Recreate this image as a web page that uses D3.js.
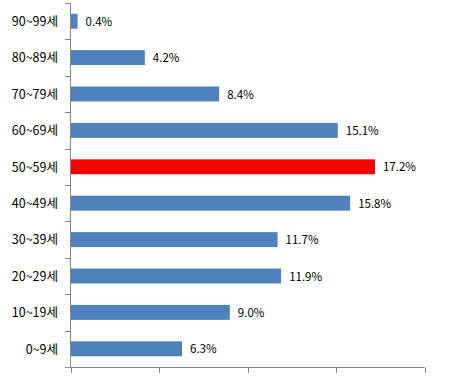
<!DOCTYPE html>
<html><head><meta charset="utf-8">
<script src="https://cdn.jsdelivr.net/npm/d3@7"></script>
<style>body{margin:0;background:#fff;} svg{display:block;}</style>
</head><body>
<svg id="c" width="453" height="379"></svg>
<script>
const categories = ["90~99세","80~89세","70~79세","60~69세","50~59세","40~49세","30~39세","20~29세","10~19세","0~9세"];
const values = [0.4,4.2,8.4,15.1,17.2,15.8,11.7,11.9,9.0,6.3];
const highlight = "50~59세";
const xTicks = [0,5,10,15,20];

const svg = d3.select("#c");
const x = d3.scaleLinear().domain([0,20]).range([70.5,424.5]);
const y = d3.scaleBand().domain(categories).range([3,367]).paddingInner(0.59).paddingOuter(0.295);
const yb = d3.scaleBand().domain(categories).range([3,367]);
const axisColor = "#868686";
const font = "'Noto Sans CJK KR', 'Noto Sans', sans-serif";

// bars
svg.selectAll("rect.bar").data(categories).join("rect")
  .attr("x", x(0))
  .attr("y", d => y(d))
  .attr("width", (d,i) => x(values[i]) - x(0))
  .attr("height", y.bandwidth())
  .attr("fill", d => d === highlight ? "#FF0000" : "#4F81BD");

// value labels
svg.selectAll("text.val").data(categories).join("text")
  .attr("x", (d,i) => x(values[i]) + 8)
  .attr("y", d => y(d) + y.bandwidth()/2 + 0.5)
  .attr("dy", "0.35em")
  .attr("font-family", font).attr("font-size", 11.5).attr("fill", "#000")
  .text((d,i) => values[i].toFixed(1) + "%");

// y axis line
svg.append("line").attr("x1", 70.5).attr("x2", 70.5).attr("y1", 3).attr("y2", 367)
  .attr("stroke", axisColor);
// y ticks at band boundaries
const bounds = categories.map(c => yb(c)).concat([367]);
svg.selectAll("line.yt").data(bounds).join("line")
  .attr("x1", 65).attr("x2", 70.5)
  .attr("y1", d => Math.round(d) + 0.5).attr("y2", d => Math.round(d) + 0.5)
  .attr("stroke", axisColor);
// category labels
svg.selectAll("text.cat").data(categories).join("text")
  .attr("x", 58)
  .attr("y", d => yb(d) + yb.bandwidth()/2 + 0.5)
  .attr("dy", "0.35em")
  .attr("text-anchor", "end")
  .attr("font-family", font).attr("font-size", 12.5).attr("fill", "#000")
  .text(d => d);

// x axis
svg.append("line").attr("x1", 70.5).attr("x2", 424.5).attr("y1", 367.5).attr("y2", 367.5)
  .attr("stroke", axisColor);
svg.selectAll("line.xt").data(xTicks).join("line")
  .attr("x1", d => Math.round(x(d)) + 0.5).attr("x2", d => Math.round(x(d)) + 0.5)
  .attr("y1", 367.5).attr("y2", 373)
  .attr("stroke", axisColor);
</script>
</body></html>
